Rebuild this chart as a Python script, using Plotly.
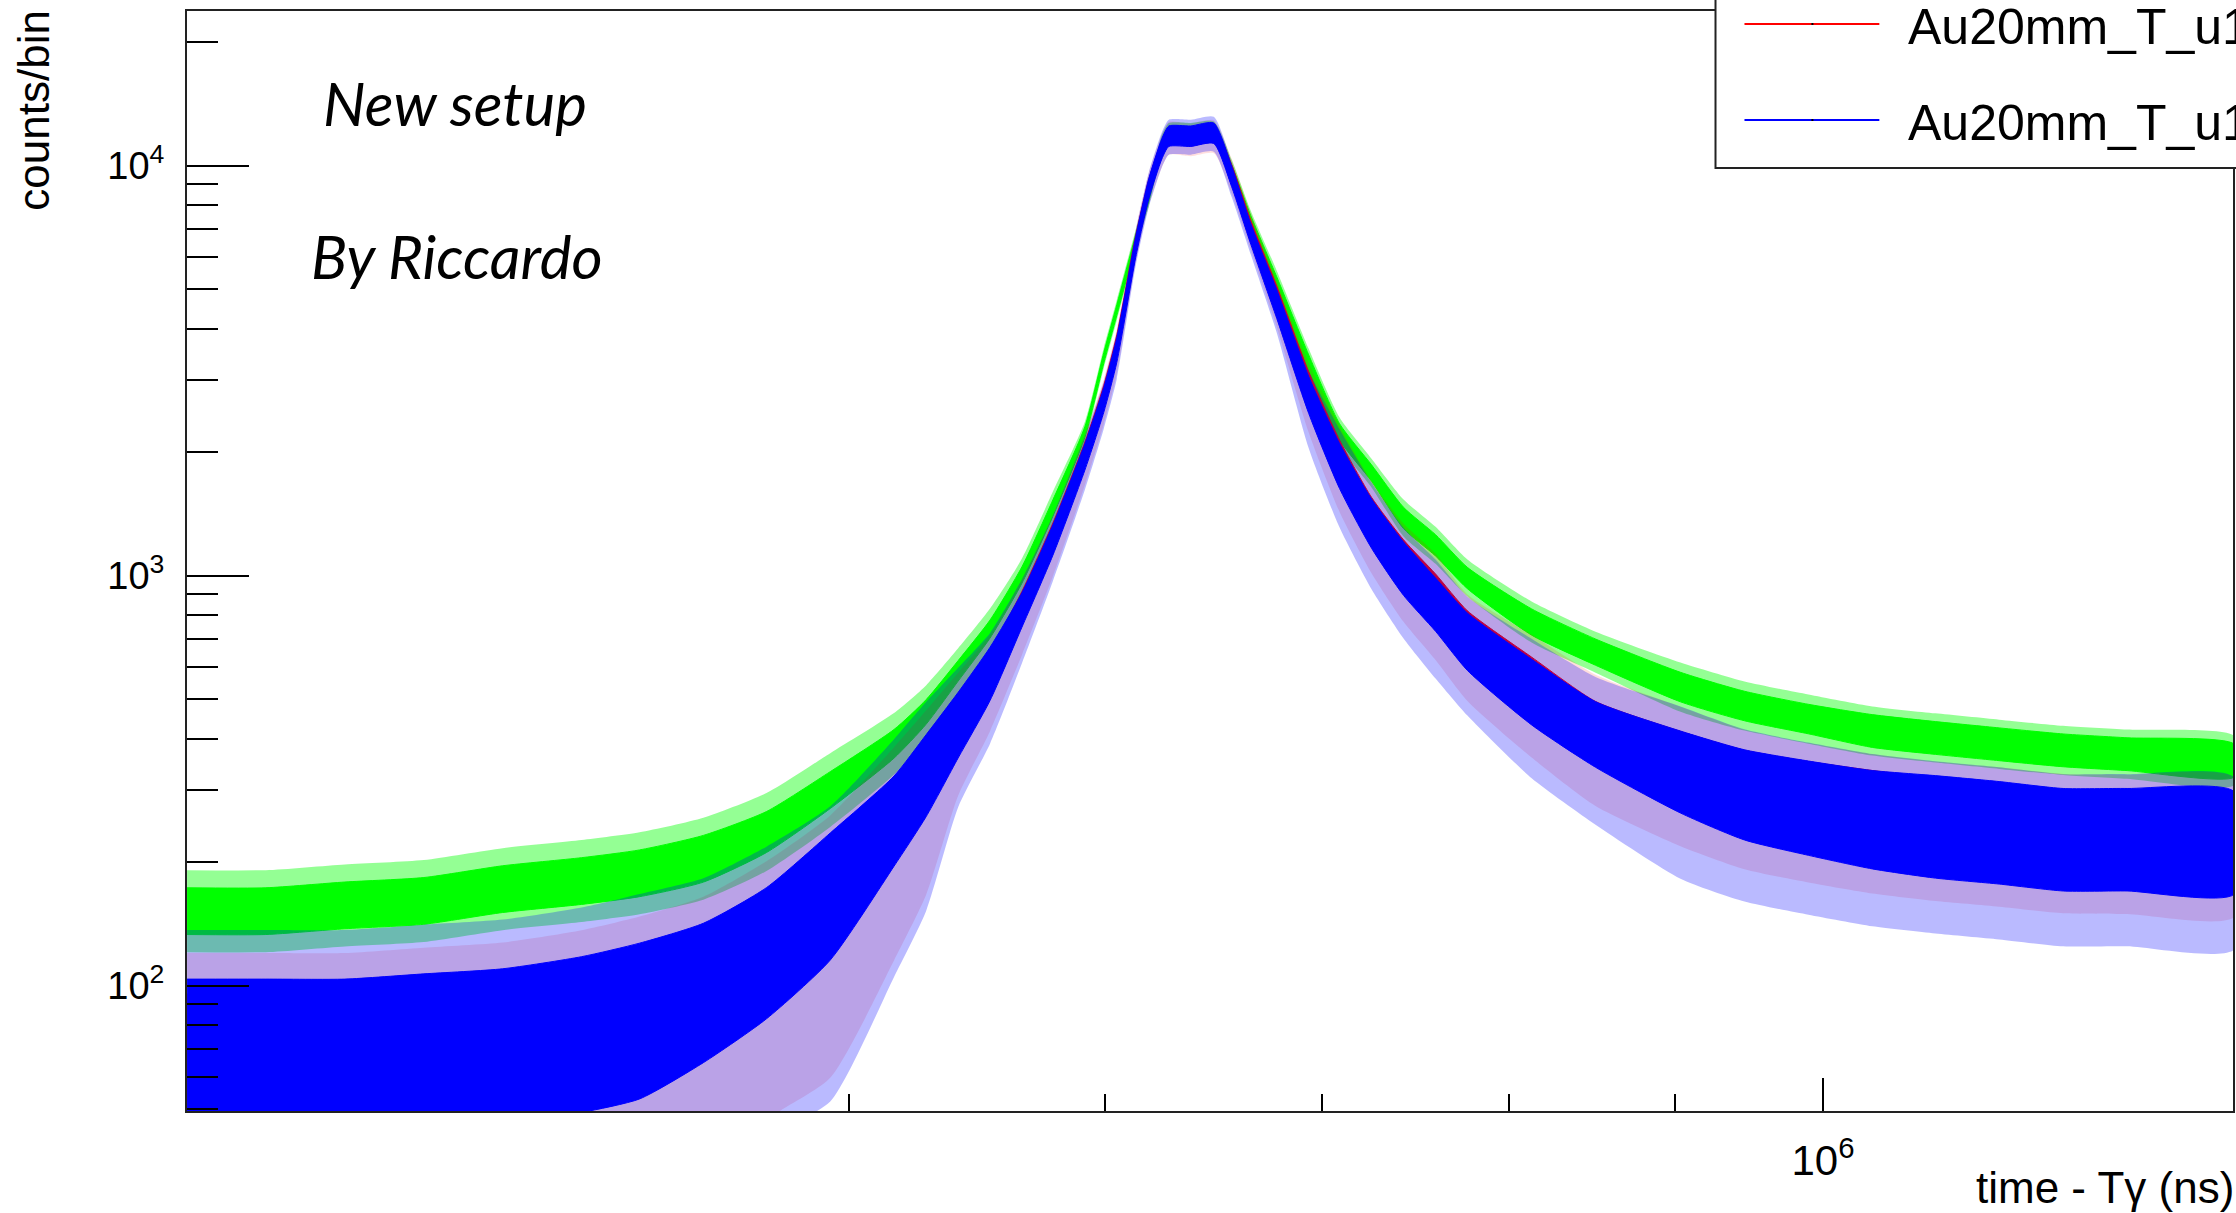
import numpy as np
import plotly.graph_objects as go

# ---------------- data ----------------
time_ns = [312300, 330300, 349400, 369600, 390900, 413500, 430900, 450900, 471600, 493500,
           516400, 528300, 540500, 552900, 565600, 578200, 591500, 599500, 605100, 613300,
           619000, 624800, 627900, 637800, 648300, 656600, 665600, 678000, 693600, 709000,
           725300, 742000, 759100, 776500, 812800, 850600, 903600, 945700, 989700, 1035700,
           1083200, 1133500, 1186300, 1241500, 1339900]

green_counts = [152, 152, 157, 161, 172, 180, 188, 204, 237, 300,
                389, 465, 586, 741, 1004, 1463, 2242, 3396, 4447, 6588,
                8436, 11230, 12000, 12000, 12100, 9761, 7330, 5117, 3300, 2242,
                1780, 1383, 1186, 987, 771, 651, 535, 481, 447, 418,
                402, 388, 375, 367, 354]
red_counts = [66, 66, 66, 68, 70, 75, 81, 97, 124, 168,
              258, 332, 440, 590, 845, 1255, 2000, 2750, 3650, 6450,
              8850, 11000, 11800, 11700, 11900, 9600, 7000, 4750, 2880, 1930,
              1400, 1090, 900, 715, 545, 425, 347, 305, 283, 266,
              255, 247, 238, 237, 233]
blue_counts = [67, 67, 67, 69, 71, 76, 82, 96, 120, 165,
               252, 325, 432, 576, 825, 1222, 1948, 2682, 3553, 6335,
               8774, 11000, 11800, 11800, 12000, 9412, 6814, 4598, 2759, 1851,
               1340, 1040, 850, 690, 520, 410, 332, 292, 271, 254,
               244, 236, 227, 227, 223]

# scatter of the bins around each value (log10 units): dense core, upward and downward spikes
green_core = [0.057] * 8 + [0.05, 0.045, 0.035, 0.03, 0.025, 0.022, 0.02, 0.02] + [0.013] * 11 + \
             [0.02] * 4 + [0.026] * 3 + [0.032] * 2 + [0.036] * 3 + [0.04] * 6
green_up = [0.10] * 8 + [0.095, 0.09, 0.075, 0.065, 0.055, 0.05, 0.04, 0.04] + [0.025] * 11 + \
           [0.035] * 4 + [0.045] * 3 + [0.05] * 2 + [0.06] * 9
green_down = green_up

red_core = [0.16] * 7 + [0.14, 0.13, 0.12, 0.085, 0.075, 0.06, 0.045, 0.035, 0.03, 0.025, 0.025, 0.025] + \
           [0.02] * 6 + [0.02, 0.022, 0.03, 0.038, 0.045, 0.045, 0.05, 0.05, 0.06, 0.065] + \
           [0.065, 0.08, 0.09, 0.095] + [0.10] * 6
red_up = [0.26] * 7 + [0.23, 0.21, 0.19, 0.17, 0.15, 0.12, 0.085, 0.065, 0.05, 0.045, 0.04, 0.04] + \
         [0.035] * 6 + [0.035, 0.04, 0.045, 0.06, 0.08, 0.085, 0.09, 0.1, 0.1, 0.12] + [0.13] + [0.14] * 9
red_down = [0.45] * 7 + [0.45, 0.42, 0.45, 0.35, 0.3, 0.18, 0.15, 0.12, 0.1, 0.08, 0.07, 0.07] + \
           [0.045] * 6 + [0.05] * 2 + [0.07, 0.11, 0.13, 0.14, 0.15, 0.16, 0.16, 0.18] + [0.19] + [0.2] * 9
blue_core = [0.19] * 7 + [0.17, 0.16, 0.155, 0.11, 0.1, 0.08, 0.065, 0.042, 0.037, 0.032, 0.03, 0.03] + \
            [0.025] * 6 + [0.025, 0.025, 0.035, 0.045, 0.055, 0.06, 0.065, 0.065, 0.07, 0.08] + \
            [0.08, 0.1, 0.11, 0.115, 0.12] + [0.125] * 5
blue_up = [0.31] * 7 + [0.28, 0.26, 0.22, 0.2, 0.18, 0.14, 0.1, 0.075, 0.06, 0.05, 0.045, 0.045] + \
          [0.04] * 6 + [0.035, 0.035, 0.045, 0.06, 0.09, 0.1, 0.1, 0.11, 0.11, 0.13] + [0.14] + [0.16] * 9
blue_down = [0.5] * 7 + [0.5, 0.45, 0.5, 0.38, 0.33, 0.2, 0.17, 0.13, 0.1, 0.08, 0.07, 0.07] + \
            [0.045] * 6 + [0.05] * 2 + [0.07, 0.13, 0.15, 0.16, 0.17, 0.18, 0.18, 0.21] + [0.22] + [0.26] * 9

x_ticks = [1e6]
x_ticktext = ["10<sup>6</sup>"]
x_minor = [5e5, 6e5, 7e5, 8e5, 9e5]
y_ticks = [1e2, 1e3, 1e4]
y_ticktext = ["10<sup>2</sup>", "10<sup>3</sup>", "10<sup>4</sup>"]

legend_names = ["Au20mm_T_u1", "Au20mm_T_u1"]

# ---------------- layout geometry ----------------
W, H = 2236, 1213
L, R, T, B = 187, 2235, 11, 1111


def px_x(X):
    return (X - L) / (R - L)


def px_y(Y):
    return (B - Y) / (B - T)


def band(x, c, up, down):
    x = np.asarray(x, float)
    lc = np.log10(np.asarray(c, float))
    hi = 10 ** (lc + np.asarray(up, float))
    lo = 10 ** (lc - np.asarray(down, float))
    return np.concatenate([x, x[::-1]]), np.concatenate([hi, lo[::-1]])


fig = go.Figure()

series = [
    (green_counts, green_core, green_up, green_down, "rgba(0,255,0,0.42)", "rgb(0,255,0)"),
    (red_counts, red_core, red_up, red_down, "rgba(255,0,0,0.13)", "rgb(255,0,0)"),
    (blue_counts, blue_core, blue_up, blue_down, "rgba(0,0,255,0.27)", "rgb(0,0,255)"),
]
for c, core, up, down, col_out, col_in in series:
    bx, by = band(time_ns, c, up, down)
    fig.add_trace(go.Scatter(x=bx, y=by, fill="toself", fillcolor=col_out, mode="lines",
                             line=dict(width=0, color=col_out, shape="spline", smoothing=0.6),
                             hoverinfo="skip", showlegend=False))
    bx, by = band(time_ns, c, core, core)
    fig.add_trace(go.Scatter(x=bx, y=by, fill="toself", fillcolor=col_in, mode="lines",
                             line=dict(width=1, color=col_in, shape="spline", smoothing=0.6),
                             hoverinfo="skip", showlegend=False))

sans = "Liberation Sans, Arial, sans-serif"

fig.update_layout(
    width=W, height=H,
    margin=dict(l=L, r=W - R, t=T, b=H - B, pad=0),
    paper_bgcolor="white", plot_bgcolor="white",
    showlegend=False,
    xaxis=dict(type="log", range=[5.49455, 6.12667],
               showgrid=False, zeroline=False,
               showline=True, linecolor="#222", linewidth=2, mirror=True,
               ticks="inside", ticklen=33, tickwidth=2, tickcolor="black",
               tickmode="array", tickvals=x_ticks, ticktext=x_ticktext,
               tickfont=dict(family=sans, size=42, color="black"),
               ticklabelstandoff=12,
               minor=dict(tickmode="array", tickvals=x_minor, ticks="inside", ticklen=17,
                          tickwidth=2, tickcolor="black", showgrid=False)),
    yaxis=dict(type="log", range=[1.6944, 4.3773],
               showgrid=False, zeroline=False,
               showline=True, linecolor="#222", linewidth=2, mirror=True,
               ticks="inside", ticklen=62, tickwidth=2, tickcolor="black",
               tickmode="array", tickvals=y_ticks, ticktext=y_ticktext,
               tickfont=dict(family=sans, size=38, color="black"), ticklabelstandoff=13,
               minor=dict(dtick="D1", ticks="inside", ticklen=31, tickwidth=2,
                          tickcolor="black", showgrid=False)),
)

# axis titles (ROOT style: at the ends of the axes)
fig.add_annotation(text="counts/bin", textangle=-90, xref="paper", yref="paper",
                   x=px_x(33), y=px_y(8), xanchor="center", yanchor="top", showarrow=False,
                   font=dict(family=sans, size=44, color="black"))
fig.add_annotation(text="time - Tγ (ns)", xref="paper", yref="paper",
                   x=px_x(2238), y=px_y(1187), xanchor="right", yanchor="middle", showarrow=False,
                   font=dict(family=sans, size=44, color="black"))

# free text
for txt, cx, cy in [("New setup", 455, 103), ("By Riccardo", 457, 256)]:
    fig.add_annotation(text=txt, xref="paper", yref="paper", x=px_x(cx), y=px_y(cy),
                       xanchor="center", yanchor="middle", showarrow=False,
                       font=dict(family="Lato, sans-serif", size=60, color="black", style="italic"))

# legend box (cut by the picture edge, as in the reference)
fig.add_shape(type="rect", xref="paper", yref="paper", layer="above",
              x0=px_x(1717), x1=px_x(2300), y0=px_y(168), y1=px_y(-150),
              fillcolor="white", line=dict(color="#222", width=2))
for name, col, yy in [(legend_names[0], "rgb(255,0,0)", 24), (legend_names[1], "rgb(0,0,255)", 120)]:
    fig.add_shape(type="line", xref="paper", yref="paper", layer="above",
                  x0=px_x(1746), x1=px_x(1881), y0=px_y(yy), y1=px_y(yy),
                  line=dict(color=col, width=2))
    fig.add_shape(type="rect", xref="paper", yref="paper", layer="above",
                  x0=px_x(1813), x1=px_x(1815), y0=px_y(yy + 1), y1=px_y(yy - 1),
                  fillcolor="black", line=dict(width=0))
    fig.add_annotation(text=name, xref="paper", yref="paper", x=px_x(1908), y=px_y(yy + 3),
                       xanchor="left", yanchor="middle", showarrow=False,
                       font=dict(family=sans, size=50, color="black"))

fig.write_html("out.html", config={"displayModeBar": False},
               post_script="document.body.style.margin='0';document.body.style.overflow='hidden';")
